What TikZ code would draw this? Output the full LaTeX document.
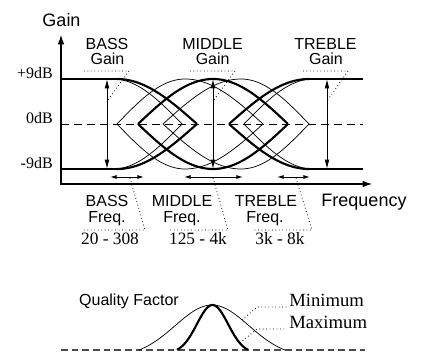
\documentclass[tikz,border=0pt]{standalone}
\usepackage{fontspec}
\setmainfont{Liberation Serif}
\setsansfont{Liberation Sans}
\usetikzlibrary{arrows.meta}

\begin{document}
\begin{tikzpicture}[x=0.75pt, y=-0.75pt,
  thinc/.style={line width=0.55pt},
  thickc/.style={line width=1.6pt},
  lead/.style={dotted, line width=0.6pt},
  lbl/.style={font=\sffamily\fontsize{12}{14}\selectfont, inner sep=0pt, anchor=base},
  num/.style={font=\fontsize{13}{15}\selectfont, inner sep=0pt, anchor=base},
  db/.style={font=\fontsize{12}{14}\selectfont, inner sep=0pt, anchor=base east},
  qlab/.style={font=\fontsize{14}{16}\selectfont, inner sep=0pt, anchor=base west},
  gainarr/.style={line width=0.7pt, {Latex[length=7pt,width=3.6pt]}-{Latex[length=7pt,width=3.6pt]}},
  freqarr/.style={line width=0.7pt, {Latex[length=5pt,width=3pt]}-{Latex[length=5pt,width=3pt]}}]
  \useasboundingbox (0,0) rectangle (422,352);

  % axes
  \coordinate (ytip) at (61,35);
  \coordinate (xtip) at (372,184);
  \draw[line width=0.8pt, {Latex[length=7pt,width=5pt]}-{Latex[length=7pt,width=5pt]}] (ytip) |- (xtip);
  \node[lbl, font=\sffamily\fontsize{13.5}{15}\selectfont] (gainax) at (61.5,27) {Gain};
  \node[lbl, font=\sffamily\fontsize{13.5}{15}\selectfont] (freqax) at (364,207) {Frequency};
  \node[db] (p9) at (53,79) {+9dB};
  \node[db] (z0) at (53,124) {0dB};
  \node[db] (m9) at (53,169) {-9dB};

  % levels
  \draw[thickc] (61,79) -- (117,79);  \draw[thickc] (309,79) -- (363,79);
  \draw[thickc] (61,169) -- (117,169);  \draw[thickc] (309,169) -- (363,169);
  \draw[line width=0.6pt, dash pattern=on 6pt off 3.75pt] (61,124) -- (363,124);

  % shelving curves: bass on the left, treble mirrored about x=213
  \foreach \s/\e/\w [evaluate=\s as \ts using 426-\s, evaluate=\e as \te using 426-\e] in {113/182/thinc, 117/197/thickc} {
    \draw[\w] plot[domain=\s:\e, samples=40] (\x, {124-45*cos(90*(\x-\s)/(\e-\s))});
    \draw[\w] plot[domain=\s:\e, samples=40] (\x, {124+45*cos(90*(\x-\s)/(\e-\s))});
    \draw[\w] plot[domain=\te:\ts, samples=40] (\x, {124-45*cos(90*(426-\x-\s)/(\e-\s))});
    \draw[\w] plot[domain=\te:\ts, samples=40] (\x, {124+45*cos(90*(426-\x-\s)/(\e-\s))});
  }
  % peaking curves of the middle band
  \foreach \c/\dl/\dr/\w [evaluate=\c as \lo using \c-\dl, evaluate=\c as \hi using \c+\dr] in {185/68/78/thinc, 241/78/68/thinc, 213/75/75/thickc} {
    \draw[\w] plot[domain=\lo:\c, samples=30] (\x, {124-45*cos(90*(\x-\c)/\dl)})
      -- plot[domain=\c:\hi, samples=30] (\x, {124-45*cos(90*(\x-\c)/\dr)});
    \draw[\w] plot[domain=\lo:\c, samples=30] (\x, {124+45*cos(90*(\x-\c)/\dl)})
      -- plot[domain=\c:\hi, samples=30] (\x, {124+45*cos(90*(\x-\c)/\dr)});
  }

  % gain ranges
  \foreach \n/\xx in {bass/107, mid/213, treb/327} {
    \coordinate (\n top) at (\xx,79);
    \coordinate (\n bot) at (\xx,169);
    \draw[gainarr] (\n top) -- (\n bot);
  }
  \node[lbl] (bassg) at (107,50) {BASS};
  \node[lbl] (bassgg) at (107.5,65) {Gain};
  \node[lbl] (midg) at (212.5,50) {MIDDLE};
  \node[lbl] (midgg) at (212.7,65) {Gain};
  \node[lbl] (trebg) at (325.5,50) {TREBLE};
  \node[lbl] (trebgg) at (326,65) {Gain};
  \foreach \n/\xa/\xb/\xx in {bass/84/129/107, mid/190/235/213, treb/303/348/327} {
    \coordinate (\n gl) at (\xa,71);
    \coordinate (\n gr) at (\xb,71);
    \coordinate (\n gp) at (\xx,101);
    \draw[lead] (\n gl) -- (\n gr) -- (\n gp);
  }

  % frequency ranges
  \foreach \n/\xa/\xb/\xm/\xl/\xr in {bass/110/144/130/84/145, mid/184/243/213/168/228, treb/277/310/296/252/312} {
    \coordinate (\n fl) at (\xa,177);
    \coordinate (\n fr) at (\xb,177);
    \coordinate (\n fm) at (\xm,178);
    \coordinate (\n fc) at (\xr,230);
    \coordinate (\n fe) at (\xl,230);
    \draw[freqarr] (\n fl) -- (\n fr);
    \draw[lead] (\n fm) -- (\n fc) -- (\n fe);
  }
  \node[lbl] (bassf) at (107,207) {BASS};
  \node[lbl] (bassff) at (107,223) {Freq.};
  \node[num] (bassr) at (110,245) {20 - 308};
  \node[lbl] (midf) at (182,207) {MIDDLE};
  \node[lbl] (midff) at (182,223) {Freq.};
  \node[num] (midr) at (198,245) {125 - 4k};
  \node[lbl] (trebf) at (266,207) {TREBLE};
  \node[lbl] (trebff) at (265,223) {Freq.};
  \node[num] (trebr) at (280,245) {3k - 8k};

  % quality factor
  \node[lbl] (qf) at (129,306) {Quality Factor};
  \draw[line width=1.5pt, gray!60!black, dash pattern=on 5pt off 3pt] (61,350) -- (365,350);
  \draw[thinc] plot[domain=139:285, samples=60]
    (\x, {350-45*(exp(-((\x-212)/52)*((\x-212)/52))-0.14)/0.86});
  \draw[thickc] plot[domain=177:248, samples=60]
    (\x, {350-45*(exp(-((\x-212.5)/22)*((\x-212.5)/22))-0.07)/0.93});
  \node[qlab] (qmin) at (289,307) {Minimum};
  \node[qlab] (qmax) at (289,329) {Maximum};
  \coordinate (qmina) at (242,320);
  \coordinate (qminb) at (257,307);
  \coordinate (qmaxa) at (240,343);
  \coordinate (qmaxb) at (257,329);
  \draw[lead] (qmina) -- (qminb) -- ([xshift=-2pt]qmin.base west);
  \draw[lead] (qmaxa) -- (qmaxb) -- ([xshift=-2pt]qmax.base west);
\end{tikzpicture}
\end{document}
